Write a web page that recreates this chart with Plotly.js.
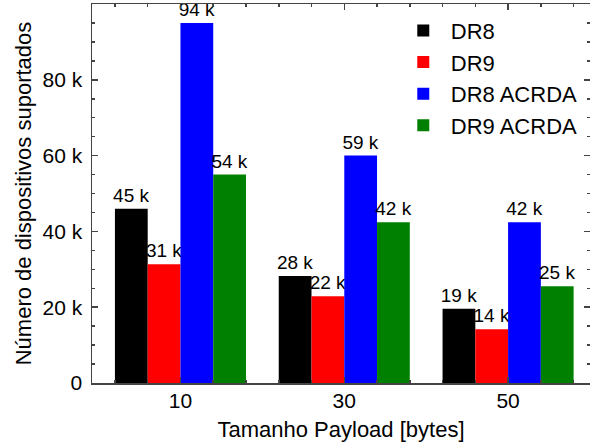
<!DOCTYPE html>
<html><head><meta charset="utf-8">
<script src="https://cdn.plot.ly/plotly-3.0.1.min.js"></script>
<style>html,body{margin:0;padding:0;background:#fff}</style>
</head><body><div id="chart" style="width:590px;height:446px"></div>
<script>
const payloads = [10, 30, 50];
const seriesNames = ['DR8', 'DR9', 'DR8 ACRDA', 'DR9 ACRDA'];
const dr8 = [46000, 28200, 19600];
const dr9 = [31300, 22900, 14200];
const dr8Acrda = [95000, 60000, 42400];
const dr9Acrda = [55000, 42400, 25500];
const dr8Labels = ['45 k', '28 k', '19 k'];
const dr9Labels = ['31 k', '22 k', '14 k'];
const dr8AcrdaLabels = ['94 k', '59 k', '42 k'];
const dr9AcrdaLabels = ['54 k', '42 k', '25 k'];
const yTickVals = [0, 20000, 40000, 60000, 80000];
const yTickText = ['0', '20 k', '40 k', '60 k', '80 k'];
const xTickVals = [10, 30, 50];
const xTickText = ['10', '30', '50'];

const colors = ['#000000', '#ff0000', '#0000ff', '#008000'];
const values = [dr8, dr9, dr8Acrda, dr9Acrda];
const labels = [dr8Labels, dr9Labels, dr8AcrdaLabels, dr9AcrdaLabels];
const FONT = 'Liberation Sans, Arial, sans-serif';

const traces = seriesNames.map((name, i) => ({
  type: 'bar',
  name: name,
  x: payloads,
  y: values[i],
  text: labels[i],
  textposition: 'outside',
  constraintext: 'none',
  cliponaxis: false,
  textfont: {family: FONT, size: 19, color: '#000'},
  marker: {color: colors[i], line: {width: 0}},
  hoverinfo: 'none'
}));

const axisLine = '#444';
const layout = {
  width: 590, height: 446,
  margin: {l: 92, r: 0, t: 4, b: 63},
  paper_bgcolor: '#fff', plot_bgcolor: '#fff',
  font: {family: FONT, size: 21, color: '#000'},
  barmode: 'group', bargap: 0.2, bargroupgap: 0,
  showlegend: true,
  legend: {
    x: 0.61, y: 0.985, xanchor: 'left', yanchor: 'top',
    bgcolor: 'rgba(0,0,0,0)', borderwidth: 0,
    font: {family: FONT, size: 22, color: '#000'},
    itemwidth: 45, itemclick: false, itemdoubleclick: false
  },
  xaxis: {
    range: [-0.8, 60], fixedrange: true,
    tickvals: xTickVals, ticktext: xTickText,
    ticks: 'inside', ticklen: 6, tickwidth: 1.5, tickcolor: axisLine,
    tickfont: {family: FONT, size: 21},
    minor: {dtick: 4, tick0: 2, ticks: 'inside', ticklen: 3, tickwidth: 1.5, tickcolor: axisLine, showgrid: false},
    showline: true, linecolor: axisLine, linewidth: 1.5, mirror: 'allticks',
    showgrid: false, zeroline: false,
    ticklabelstandoff: -2,
    title: {text: 'Tamanho Payload [bytes]', font: {family: FONT, size: 22}, standoff: 11}
  },
  yaxis: {
    range: [0, 100000], fixedrange: true,
    tickvals: yTickVals, ticktext: yTickText,
    ticks: 'inside', ticklen: 6, tickwidth: 1.5, tickcolor: axisLine,
    tickfont: {family: FONT, size: 21},
    minor: {dtick: 5000, tick0: 0, ticks: 'inside', ticklen: 3, tickwidth: 1.5, tickcolor: axisLine, showgrid: false},
    showline: true, linecolor: axisLine, linewidth: 1.5, mirror: 'allticks',
    showgrid: false, zeroline: false,
    ticklabelstandoff: 4,
    title: {text: 'Número de dispositivos suportados', font: {family: FONT, size: 22}, standoff: 5}
  }
};

Plotly.newPlot('chart', traces, layout, {staticPlot: true, displayModeBar: false});
</script>
</body></html>
